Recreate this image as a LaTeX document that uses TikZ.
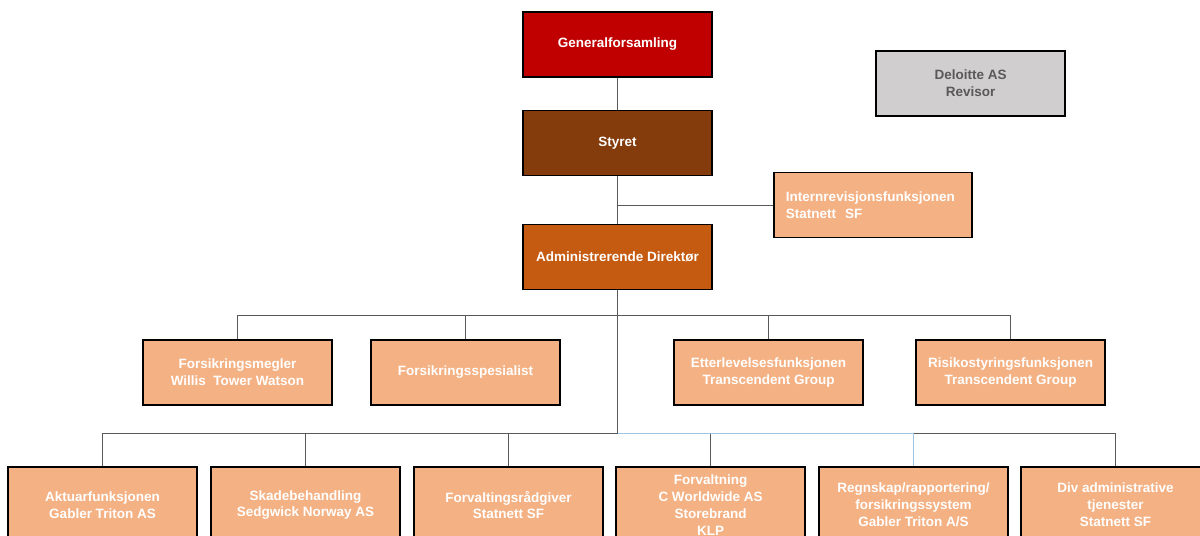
\documentclass[tikz,border=0pt]{standalone}
\usepackage{fontspec}
\setmainfont{Liberation Sans}
\usepackage{tikz}
\usetikzlibrary{positioning}
\definecolor{genred}{HTML}{C00000}
\definecolor{styrebrown}{HTML}{843C0C}
\definecolor{adminorange}{HTML}{C55A11}
\definecolor{peach}{HTML}{F4B183}
\definecolor{revgrey}{HTML}{D0CECE}
\definecolor{revtext}{HTML}{595959}
\definecolor{linegrey}{HTML}{595959}
\definecolor{lightblue}{HTML}{9DC3E6}
\def\boxfont{\bfseries\fontsize{9.6}{12}\selectfont}
\tikzstyle{unit} = [rectangle, draw=black, line width=0.8pt, minimum width=4.725cm, minimum height=1.625cm, text centered, align=center, text=white, font=\boxfont, inner sep=2pt]
\tikzstyle{top} = [unit, fill=genred]
\tikzstyle{board} = [unit, fill=styrebrown]
\tikzstyle{ceo} = [unit, fill=adminorange]
\tikzstyle{func} = [unit, fill=peach]
\tikzstyle{outsrc} = [func, minimum height=1.9cm]
\tikzstyle{audit} = [unit, fill=revgrey, text=revtext]
\tikzstyle{link} = [draw=linegrey, line width=0.6pt]

\begin{document}
\begin{tikzpicture}[x=0.025cm, y=-0.025cm]

  \useasboundingbox (0,0) rectangle (1200,536);
  \clip (0,0) rectangle (1200,536);

  \node[top]   (gen)    at (617.5,44.5) {Generalforsamling};
  \node[board] (styret) at (617.5,143)  {Styret};
  \node[ceo]   (adm)    at (617.5,257)  {Administrerende Direktør};
  \node[audit] (revisor) at (970.5,83.5) {Deloitte AS\\Revisor};

  \node[func, align=left, text width=4.35cm, minimum width=4.95cm, inner xsep=0.3cm]
       (intrev) at (873,205) {Internrevisjonsfunksjonen\\Statnett\ \ SF};

  % andre nivå
  \node[func] (megler)  at (237.5,372.5)  {Forsikringsmegler\\Willis\ \ Tower Watson};
  \node[func] (spes)    at (465.5,372.5)  {Forsikringsspesialist};
  \node[func] (etter)   at (768.5,372.5)  {Etterlevelsesfunksjonen\\Transcendent Group};
  \node[func] (risiko)  at (1010.5,372.5) {Risikostyringsfunksjonen\\Transcendent Group};

  % tredje nivå
  \node[outsrc] (aktuar) at (102.5,505)  {Aktuarfunksjonen\\Gabler Triton AS};
  \node[outsrc] (skade)  at (305.5,505)  {Skadebehandling\\Sedgwick Norway AS};
  \node[outsrc] (fradg)  at (508.5,505)  {Forvaltingsrådgiver\\Statnett SF};
  \node[outsrc] (forv)   at (710.5,505)  {Forvaltning\\C Worldwide AS\\Storebrand\\KLP};
  \node[outsrc] (regn)   at (913.5,505)  {Regnskap/rapportering/\\forsikringssystem\\Gabler Triton A/S};
  \node[outsrc] (div)    at (1115.5,505) {Div administrative\\tjenester\\Statnett SF};

  \coordinate (jn)   at (617.5,205);
  \coordinate (bar2) at (617.5,315);
  \coordinate (bar3) at (617.5,433);

  \draw[link] (gen) -- (styret);
  \draw[link] (styret) -- (adm);
  \draw[link] (jn) -- (intrev);
  \draw[link] (adm) -- (bar3);

  \foreach \n in {megler,spes,etter,risiko}{
    \draw[link] (bar2) -| (\n);
  }
  \foreach \n in {aktuar,skade,fradg,forv,div}{
    \draw[link] (bar3) -| (\n);
  }
  \draw[link, draw=lightblue] (bar3) -| (regn);

\end{tikzpicture}
\end{document}
